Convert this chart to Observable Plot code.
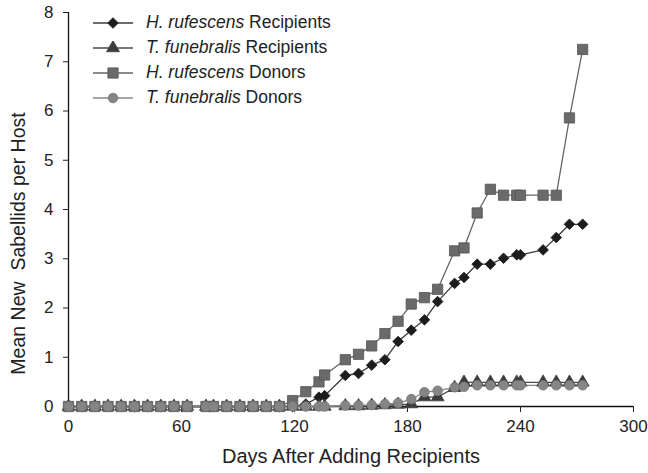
<!DOCTYPE html>
<html><head><meta charset="utf-8">
<script src="https://cdn.jsdelivr.net/npm/d3@7"></script>
<script src="https://cdn.jsdelivr.net/npm/@observablehq/plot@0.6"></script>
<style>
body{margin:0;background:#fff;font-family:"Liberation Sans",Arial,sans-serif;}
#wrap{position:relative;width:648px;height:473px;}
#legend{position:absolute;left:93px;top:10px;font-size:17.5px;color:#222;}
.row{height:25px;display:flex;align-items:center;white-space:nowrap;}
.row svg{margin-right:13px;}
</style></head><body><div id="wrap"></div>
<script>
const days = [0,7,14,21,28,35,42,49,56,63,73,77,84,91,98,105,112,119,126,133,136,147,154,161,168,175,182,189,196,205,210,217,224,231,238,240,252,259,266,273];
const hrRecipients = [0,0,0,0,0,0,0,0,0,0,0,0,0,0,0,0,0,0,0.05,0.19,0.22,0.63,0.67,0.84,0.95,1.32,1.55,1.76,2.13,2.5,2.62,2.89,2.89,3.01,3.08,3.08,3.18,3.43,3.7,3.7];
const tfRecipients = [0,0,0,0,0,0,0,0,0,0,0,0,0,0,0,0,0,0,0,0,0,0.01,0.01,0.02,0.03,0.04,0.05,0.19,0.19,0.38,0.49,0.49,0.49,0.49,0.49,0.49,0.49,0.49,0.49,0.49];
const hrDonors = [0,0,0,0,0,0,0,0,0,0,0,0,0,0,0,0,0,0.12,0.3,0.5,0.64,0.95,1.06,1.23,1.48,1.73,2.08,2.21,2.38,3.16,3.22,3.93,4.41,4.29,4.29,4.29,4.29,4.29,5.86,7.25];
const tfDonors = [0,0,0,0,0,0,0,0,0,0,0,0,0,0,0,0,0,0,0,0,0,0.02,0.02,0.03,0.05,0.07,0.15,0.29,0.32,0.39,0.4,0.43,0.43,0.43,0.43,0.43,0.43,0.43,0.43,0.43];
const xTicks = [0,60,120,180,240,300];
const yTicks = [0,1,2,3,4,5,6,7,8];
const xTitle = "Days After Adding Recipients";
const yTitle = "Mean New\u00a0 Sabellids per Host";

const series = [
  {sp:"H. rufescens", rest:" Recipients", values:hrRecipients, symbol:"diamond2", r:4.8, fill:"#1c1c1c", stroke:"#1c1c1c", line:"#3a3a3a"},
  {sp:"T. funebralis", rest:" Recipients", values:tfRecipients, symbol:"triangle", r:4.8, fill:"#3c3c3c", stroke:"#3c3c3c", line:"#4a4a4a"},
  {sp:"H. rufescens", rest:" Donors", values:hrDonors, symbol:"square", r:5.8, fill:"#6a6a6a", stroke:"#555", line:"#666"},
  {sp:"T. funebralis", rest:" Donors", values:tfDonors, symbol:"circle", r:4.8, fill:"#858585", stroke:"#7a7a7a", line:"#888"}
];

const marks = [
  Plot.ruleY([0], {stroke:"#111", strokeWidth:1.3}),
  Plot.ruleX([0], {stroke:"#111", strokeWidth:1.3}),
  Plot.axisX({ticks:xTicks, tickSize:6, tickPadding:7, fontSize:17, label:null}),
  Plot.axisY({ticks:yTicks, tickSize:5, tickPadding:10, fontSize:17, label:null}),
  Plot.text([xTitle], {frameAnchor:"bottom", dy:56, fontSize:20, fill:"#222"}),
  Plot.text([yTitle], {frameAnchor:"left", textAnchor:"middle", dx:-50, dy:34, rotate:-90, fontSize:19.5, fill:"#222"})
];
for (const s of series) {
  const data = days.map((d,i) => ({day:d, value:s.values[i]}));
  marks.push(Plot.line(data, {x:"day", y:"value", stroke:s.line, strokeWidth:1.3}));
}
for (const s of series) {
  const data = days.map((d,i) => ({day:d, value:s.values[i]}));
  marks.push(Plot.dot(data, {x:"day", y:"value", symbol:s.symbol, r:s.r, fill:s.fill, stroke:s.stroke, strokeWidth:0.8}));
}

const chart = Plot.plot({
  width:648, height:473,
  marginLeft:68, marginRight:15, marginTop:12, marginBottom:67,
  style:{fontFamily:"'Liberation Sans', Arial, sans-serif", fontSize:"16px", color:"#222", background:"#fff"},
  x:{domain:[0,300]},
  y:{domain:[0,8]},
  marks
});
const wrap = document.getElementById("wrap");
wrap.appendChild(chart);

const symMap = {diamond2:d3.symbolDiamond2, triangle:d3.symbolTriangle, square:d3.symbolSquare, circle:d3.symbolCircle};
const legend = document.createElement("div");
legend.id = "legend";
for (const s of series) {
  const row = document.createElement("div");
  row.className = "row";
  const path = d3.symbol(symMap[s.symbol], Math.PI*s.r*s.r)();
  row.innerHTML = `<svg width="40" height="14"><line x1="0" x2="40" y1="7" y2="7" stroke="${s.line}" stroke-width="1.3"/><path d="${path}" transform="translate(20,7)" fill="${s.fill}" stroke="${s.stroke}" stroke-width="0.8"/></svg><span><i>${s.sp}</i>${s.rest}</span>`;
  legend.appendChild(row);
}
wrap.appendChild(legend);
</script></body></html>
